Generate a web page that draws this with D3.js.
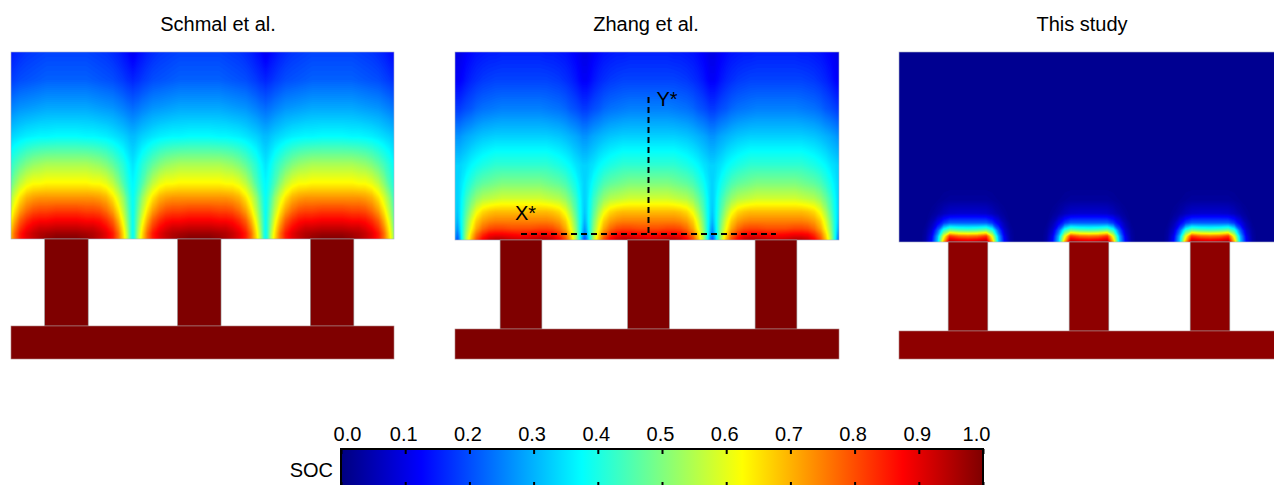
<!DOCTYPE html>
<html>
<head>
<meta charset="utf-8">
<script src="https://cdn.jsdelivr.net/npm/d3@7"></script>
<style>
  body { margin: 0; background: #fff; }
  svg { display: block; font-family: 'Liberation Sans', Arial, sans-serif; }
</style>
</head>
<body>
<svg width="1274" height="485"></svg>
<script>
const panelTitles = ['Schmal et al.', 'Zhang et al.', 'This study']

// sampled rows, 0 = top of the electrode, 1 = interface with the ribs
const depthRows = [0, 0.15, 0.3, 0.45, 0.6, 0.7, 0.78, 0.85, 0.9, 0.94, 0.97, 1.0]
// sampled columns, 0 = rib centre, 1 = half way to the next rib
const lateralCols = [0, 0.15, 0.3, 0.4, 0.5, 0.6, 0.7, 0.78, 0.86, 0.92, 0.97, 1.0]

const socSchmal = [
  [0.19, 0.19, 0.19, 0.185, 0.18, 0.175, 0.165, 0.155, 0.14, 0.13, 0.115, 0.11],
  [0.22, 0.22, 0.22, 0.215, 0.21, 0.205, 0.2, 0.19, 0.18, 0.17, 0.165, 0.16],
  [0.29, 0.29, 0.29, 0.285, 0.28, 0.275, 0.27, 0.26, 0.25, 0.24, 0.235, 0.23],
  [0.375, 0.375, 0.37, 0.37, 0.365, 0.36, 0.35, 0.34, 0.33, 0.32, 0.31, 0.31],
  [0.54, 0.54, 0.54, 0.53, 0.52, 0.5, 0.47, 0.44, 0.41, 0.38, 0.36, 0.35],
  [0.63, 0.63, 0.63, 0.62, 0.62, 0.6, 0.56, 0.51, 0.45, 0.41, 0.38, 0.37],
  [0.73, 0.73, 0.73, 0.73, 0.72, 0.7, 0.65, 0.59, 0.52, 0.45, 0.4, 0.38],
  [0.82, 0.82, 0.81, 0.81, 0.8, 0.77, 0.72, 0.65, 0.56, 0.48, 0.41, 0.38],
  [0.88, 0.88, 0.87, 0.87, 0.86, 0.83, 0.78, 0.7, 0.6, 0.5, 0.42, 0.38],
  [0.93, 0.93, 0.92, 0.92, 0.9, 0.87, 0.82, 0.74, 0.63, 0.52, 0.42, 0.38],
  [0.97, 0.97, 0.96, 0.95, 0.93, 0.9, 0.85, 0.77, 0.65, 0.54, 0.42, 0.38],
  [1.0, 1.0, 0.98, 0.96, 0.93, 0.9, 0.85, 0.77, 0.66, 0.55, 0.42, 0.38]
]

const socZhang = [
  [0.155, 0.155, 0.155, 0.15, 0.15, 0.145, 0.14, 0.13, 0.12, 0.11, 0.1, 0.1],
  [0.19, 0.19, 0.19, 0.19, 0.185, 0.18, 0.17, 0.16, 0.145, 0.13, 0.12, 0.12],
  [0.25, 0.25, 0.25, 0.245, 0.24, 0.235, 0.225, 0.21, 0.2, 0.19, 0.18, 0.18],
  [0.33, 0.33, 0.33, 0.33, 0.325, 0.32, 0.31, 0.3, 0.29, 0.28, 0.27, 0.27],
  [0.42, 0.42, 0.42, 0.42, 0.41, 0.4, 0.385, 0.37, 0.35, 0.34, 0.33, 0.33],
  [0.5, 0.5, 0.5, 0.49, 0.48, 0.47, 0.45, 0.42, 0.39, 0.36, 0.34, 0.33],
  [0.58, 0.58, 0.58, 0.57, 0.56, 0.55, 0.52, 0.48, 0.43, 0.38, 0.34, 0.33],
  [0.69, 0.69, 0.69, 0.69, 0.68, 0.66, 0.61, 0.54, 0.46, 0.39, 0.34, 0.32],
  [0.75, 0.75, 0.75, 0.75, 0.74, 0.72, 0.67, 0.59, 0.49, 0.4, 0.33, 0.3],
  [0.8, 0.8, 0.81, 0.81, 0.8, 0.77, 0.71, 0.62, 0.51, 0.4, 0.31, 0.27],
  [0.86, 0.87, 0.88, 0.88, 0.87, 0.83, 0.76, 0.66, 0.53, 0.4, 0.28, 0.24],
  [0.92, 0.93, 0.95, 0.95, 0.93, 0.88, 0.8, 0.69, 0.55, 0.39, 0.25, 0.2]
]

const socThisStudy = [
  [0.015, 0.015, 0.015, 0.015, 0.015, 0.015, 0.015, 0.015, 0.015, 0.015, 0.015, 0.015],
  [0.015, 0.015, 0.015, 0.015, 0.015, 0.015, 0.015, 0.015, 0.015, 0.015, 0.015, 0.015],
  [0.015, 0.015, 0.015, 0.015, 0.015, 0.015, 0.015, 0.015, 0.015, 0.015, 0.015, 0.015],
  [0.015, 0.015, 0.015, 0.015, 0.015, 0.015, 0.015, 0.015, 0.015, 0.015, 0.015, 0.015],
  [0.015, 0.015, 0.015, 0.015, 0.015, 0.015, 0.015, 0.015, 0.015, 0.015, 0.015, 0.015],
  [0.015, 0.015, 0.015, 0.015, 0.015, 0.015, 0.015, 0.015, 0.015, 0.015, 0.015, 0.015],
  [0.03, 0.03, 0.03, 0.025, 0.02, 0.015, 0.015, 0.015, 0.015, 0.015, 0.015, 0.015],
  [0.08, 0.08, 0.075, 0.06, 0.04, 0.025, 0.015, 0.015, 0.015, 0.015, 0.015, 0.015],
  [0.22, 0.22, 0.22, 0.18, 0.11, 0.05, 0.02, 0.015, 0.015, 0.015, 0.015, 0.015],
  [0.46, 0.47, 0.5, 0.42, 0.22, 0.08, 0.03, 0.015, 0.015, 0.015, 0.015, 0.015],
  [0.76, 0.77, 0.82, 0.6, 0.3, 0.11, 0.035, 0.015, 0.015, 0.015, 0.015, 0.015],
  [0.93, 0.94, 0.96, 0.7, 0.33, 0.13, 0.04, 0.015, 0.015, 0.015, 0.015, 0.015]
]

const panelSoc = [socSchmal, socZhang, socThisStudy]
const ribSoc = [1.0, 1.0, 0.985]
const colorbarTicks = [0.0, 0.1, 0.2, 0.3, 0.4, 0.5, 0.6, 0.7, 0.8, 0.9, 1.0]

// pixel layout of each panel; p0/p3 are where period 0 and period 3 fall
const layout = [
  { left: 11, right: 394, top: 52, mid: 239, ribBottom: 326, bottom: 359, p0: 0, p3: 398.5, titleX: 218 },
  { left: 455, right: 839, top: 52, mid: 240, ribBottom: 329, bottom: 359, p0: 457.25, p3: 839.75, titleX: 646 },
  { left: 899, right: 1290, top: 52, mid: 242, ribBottom: 331, bottom: 359, p0: 907.5, p3: 1270.5, titleX: 1082 }
]
const ribHalf = 0.164
const fontSize = '20px'

const jet = d3.scaleLinear()
  .domain([0, 0.125, 0.375, 0.625, 0.875, 1])
  .range(['#00007f', '#0000ff', '#00ffff', '#ffff00', '#ff0000', '#7f0000'])
  .clamp(true)

const svg = d3.select('svg')
const defs = svg.append('defs')

// mirror the half period and repeat it so it covers the whole panel
const buildGrid = (soc, kMin, kMax) => {
  let xs = []
  let cols = []
  let n = lateralCols.length
  for (let k = kMin; k <= kMax; k++) {
    let c = k + 0.5
    for (let i = n - 1; i >= 0; i--) {
      if (k > kMin && i === n - 1) continue
      xs.push(c - lateralCols[i] / 2)
      cols.push(i)
    }
    for (let i = 1; i < n; i++) {
      xs.push(c + lateralCols[i] / 2)
      cols.push(i)
    }
  }
  let values = []
  soc.forEach(row => cols.forEach(i => values.push(row[i])))
  return { xs: xs, nx: xs.length, ny: soc.length, values: values }
}

const step = 0.005
const thresholds = d3.range(0, 1, step)

layout.forEach((p, pi) => {
  let g = svg.append('g')
  let px = d3.scaleLinear().domain([0, 3]).range([p.p0, p.p3])

  defs.append('clipPath').attr('id', 'clip' + pi)
    .append('rect')
    .attr('x', p.left).attr('y', p.top)
    .attr('width', p.right - p.left).attr('height', p.mid - p.top)

  let grid = buildGrid(panelSoc[pi], -1, 3)
  let gx = d3.scaleLinear()
    .domain(grid.xs.map((d, i) => i + 0.5))
    .range(grid.xs.map(d => px(d)))
  let gy = d3.scaleLinear()
    .domain(depthRows.map((d, i) => i + 0.5))
    .range(depthRows.map(d => p.top + d * (p.mid - p.top)))
  let path = d3.geoPath(d3.geoTransform({
    point: function (x, y) { this.stream.point(gx(x), gy(y)) }
  }))

  let bands = d3.contours()
    .size([grid.nx, grid.ny])
    .thresholds(thresholds)(grid.values)

  g.append('g')
    .attr('clip-path', 'url(#clip' + pi + ')')
    .selectAll('path')
    .data(bands)
    .enter().append('path')
    .attr('d', path)
    .attr('fill', d => jet(d.value + step / 2))

  g.append('rect')
    .attr('x', p.left).attr('y', p.top)
    .attr('width', p.right - p.left).attr('height', p.mid - p.top)
    .attr('fill', 'none')
    .attr('stroke', '#a9b0c8')
    .attr('stroke-width', 0.6)

  // current collector ribs and base plate
  g.selectAll('.rib')
    .data([0.5, 1.5, 2.5])
    .enter().append('rect')
    .attr('class', 'rib')
    .attr('x', d => px(d - ribHalf))
    .attr('y', p.mid)
    .attr('width', d => px(d + ribHalf) - px(d - ribHalf))
    .attr('height', p.ribBottom - p.mid)
    .attr('fill', jet(ribSoc[pi]))
    .attr('stroke', '#9a9a9a')
    .attr('stroke-width', 0.6)

  g.append('rect')
    .attr('x', p.left).attr('y', p.ribBottom)
    .attr('width', p.right - p.left).attr('height', p.bottom - p.ribBottom)
    .attr('fill', jet(ribSoc[pi]))
    .attr('stroke', '#b08080')
    .attr('stroke-width', 0.6)

  svg.append('text')
    .attr('x', p.titleX)
    .attr('y', 31)
    .attr('text-anchor', 'middle')
    .attr('font-size', fontSize)
    .text(panelTitles[pi])

  if (pi === 1) {
    let lineY = p.mid - 6
    g.append('line')
      .attr('x1', px(1.5)).attr('x2', px(1.5))
      .attr('y1', 97).attr('y2', lineY)
      .attr('stroke', '#000').attr('stroke-width', 2)
      .attr('stroke-dasharray', '6,4')
    g.append('line')
      .attr('x1', px(0.5)).attr('x2', px(2.5))
      .attr('y1', lineY).attr('y2', lineY)
      .attr('stroke', '#000').attr('stroke-width', 2)
      .attr('stroke-dasharray', '6,4')
    g.append('text')
      .attr('x', px(1.5) + 8).attr('y', 106)
      .attr('font-size', fontSize)
      .text('Y*')
    g.append('text')
      .attr('x', px(0.5) - 6).attr('y', 220)
      .attr('font-size', fontSize)
      .text('X*')
  }
})

// colour bar
const cb = d3.scaleLinear().domain([0, 1]).range([341, 983])
const barTop = 449
const barBottom = 487

let grad = defs.append('linearGradient').attr('id', 'jetGrad')
grad.selectAll('stop')
  .data(jet.domain())
  .enter().append('stop')
  .attr('offset', d => d * 100 + '%')
  .attr('stop-color', d => jet(d))

svg.append('rect')
  .attr('x', cb(0)).attr('y', barTop)
  .attr('width', cb(1) - cb(0)).attr('height', barBottom - barTop)
  .attr('fill', 'url(#jetGrad)')
  .attr('stroke', '#000')
  .attr('stroke-width', 2)

let topAxis = svg.append('g')
  .attr('transform', 'translate(0,' + barTop + ')')
  .call(d3.axisTop(cb)
    .tickValues(colorbarTicks)
    .tickSizeInner(-5)
    .tickSizeOuter(0)
    .tickPadding(8)
    .tickFormat(d3.format('.1f')))
topAxis.select('.domain').remove()
topAxis.selectAll('line').attr('stroke-width', 2)
topAxis.selectAll('text')
  .attr('font-size', fontSize)
  .attr('font-family', "'Liberation Sans', Arial, sans-serif")
  .attr('fill', '#000')
  .attr('dx', d => d === 0 ? 6 : d === 1 ? -7 : -2)

let bottomAxis = svg.append('g')
  .attr('transform', 'translate(0,' + barBottom + ')')
  .call(d3.axisBottom(cb)
    .tickValues(colorbarTicks)
    .tickSizeInner(-5)
    .tickSizeOuter(0)
    .tickFormat(''))
bottomAxis.select('.domain').remove()
bottomAxis.selectAll('line').attr('stroke-width', 2)

svg.append('text')
  .attr('x', 333)
  .attr('y', 477)
  .attr('text-anchor', 'end')
  .attr('font-size', fontSize)
  .text('SOC')
</script>
</body>
</html>
